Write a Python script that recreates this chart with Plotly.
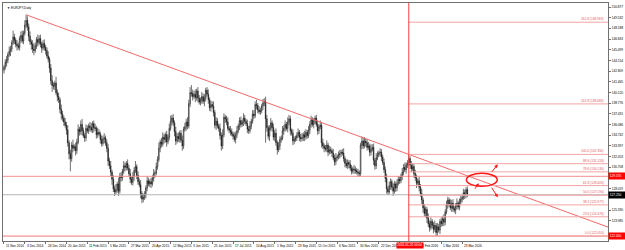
import plotly.graph_objects as go

symbol_title = "EURJPY,Daily"
first_open = 142.9

closes = [
    143.3, 143.9, 144.2, 144.9, 145.3, 145.6, 146.4, 147.1, 146.7, 146.2, 146.0, 145.8, 146.9, 147.3, 146.6, 147.6,
    148.6, 149.2, 148.4, 147.2, 146.5, 146.2, 145.6, 145.4, 146.0, 146.8, 146.4, 146.9, 146.2, 145.7, 146.3, 145.8,
    145.4, 144.7, 144.3, 143.2, 141.6, 141.0, 140.9, 141.3, 140.1, 139.6, 139.2, 138.0, 137.4, 136.9, 136.4, 136.0,
    135.4, 133.8, 132.4, 131.8, 133.5, 133.1, 133.3, 132.8, 133.9, 135.5, 135.2, 136.1, 135.3, 134.7, 134.4, 135.6,
    135.3, 135.9, 135.7, 135.4, 136.2, 135.7, 135.6, 134.8, 135.1, 134.9, 134.2, 133.7, 134.3, 134.4, 133.8, 133.1,
    131.5, 130.9, 130.1, 129.2, 128.0, 127.6, 127.9, 128.6, 127.7, 129.6, 129.4, 130.2, 130.9, 130.7, 131.2, 130.6,
    129.9, 129.2, 128.8, 129.6, 130.3, 130.8, 129.7, 128.9, 128.5, 127.4, 126.7, 126.9, 127.3, 128.1, 129.0, 128.6,
    128.9, 128.6, 129.3, 129.9, 130.0, 130.8, 131.7, 133.1, 133.9, 133.6, 134.5, 134.2, 134.8, 133.9, 134.5, 135.6,
    136.5, 136.9, 136.3, 135.2, 134.0, 134.6, 134.3, 135.0, 134.1, 133.4, 135.5, 135.8, 136.4, 135.9, 138.7, 140.1,
    140.0, 139.6, 139.9, 139.5, 140.3, 139.4, 138.9, 139.2, 139.6, 139.0, 139.4, 140.4, 139.9, 139.2, 138.2, 138.6,
    138.4, 137.6, 136.0, 136.5, 135.9, 135.6, 134.7, 133.4, 134.8, 137.0, 136.8, 136.4, 135.6, 135.4, 135.2, 134.9,
    134.6, 134.2, 134.8, 135.3, 135.9, 136.6, 136.1, 136.4, 136.9, 136.5, 136.2, 135.5, 135.3, 135.9, 136.5, 137.4,
    137.2, 138.6, 138.5, 137.9, 137.7, 137.8, 138.4, 138.8, 139.0, 136.8, 135.7, 134.6, 135.6, 136.3, 135.7, 134.5,
    135.0, 133.8, 132.9, 133.4, 134.2, 134.4, 135.3, 135.6, 136.1, 135.6, 136.4, 136.8, 135.3, 135.0, 134.0, 134.2,
    134.4, 134.7, 135.1, 134.5, 134.3, 134.4, 134.8, 134.5, 135.1, 134.7, 135.4, 136.1, 136.7, 136.1, 136.5, 136.9,
    136.1, 135.3, 135.8, 136.0, 133.8, 133.4, 133.1, 133.0, 133.5, 132.6, 132.9, 132.8, 132.5, 131.9, 131.4, 131.9,
    132.0, 132.3, 132.4, 132.6, 132.5, 131.8, 131.2, 130.9, 131.3, 131.1, 130.6, 130.2, 130.5, 130.4, 130.3, 130.1,
    130.0, 129.9, 133.5, 134.0, 133.4, 134.0, 133.8, 133.2, 133.4, 132.6, 133.0, 133.2, 131.6, 130.9, 131.9, 132.3,
    132.5, 132.6, 132.0, 131.3, 130.4, 129.3, 128.0, 127.6, 128.4, 128.9, 128.2, 127.7, 128.6, 128.1, 128.7, 129.2,
    129.0, 129.6, 130.1, 130.7, 130.4, 131.0, 131.2, 131.8, 131.0, 130.5, 130.8, 129.9, 129.4, 128.7, 129.0, 128.2,
    127.4, 126.6, 125.6, 124.9, 125.4, 124.3, 123.6, 123.1, 123.9, 123.4, 122.9, 123.4, 122.5, 123.2, 122.8, 123.9,
    123.6, 124.2, 123.8, 125.1, 126.0, 126.6, 126.1, 125.6, 126.2, 125.5, 125.3, 125.8, 126.2, 125.7, 126.3, 126.7,
    126.9, 127.5, 127.2, 127.9, 127.25,
]

wick_up = [
    0.3, 0.4, 0.5, 0.3, 0.6, 0.4, 0.3, 0.8, 0.4, 0.3, 0.5, 0.4, 0.3, 0.5, 0.6, 0.3,
    0.6, 0.7, 0.5, 0.4, 0.6, 0.3, 0.5, 0.7, 0.4, 0.3, 0.6, 0.4, 0.5, 0.3, 0.4, 0.5,
    0.3, 0.4, 0.6, 0.3, 0.5, 0.7, 0.4, 0.3, 0.8, 0.4, 0.5, 0.3, 0.6, 0.4, 0.3, 0.5,
    0.4, 0.6, 0.3, 0.5, 0.4, 0.7, 0.3, 0.5, 0.4, 0.6, 0.3, 0.5, 0.7, 0.4, 0.3, 0.5,
    0.4, 0.3, 0.5, 0.6, 0.3, 0.4, 0.5, 0.3, 0.6, 0.4, 0.3, 0.5, 0.4, 0.6, 0.3, 0.4,
    0.5, 0.4, 0.6, 0.3, 0.5, 0.4, 0.7, 0.3, 0.8, 0.4, 0.5, 0.3, 0.6, 0.4, 0.3, 0.5,
    0.4, 0.6, 0.3, 0.5, 0.4, 0.7, 0.3, 0.5, 0.4, 0.6, 0.3, 0.5, 0.4, 0.3, 0.6, 0.4,
    0.3, 0.5, 0.4, 0.6, 0.3, 0.5, 0.4, 0.7, 0.3, 0.5, 0.6, 0.4, 0.3, 0.5, 0.4, 0.6,
    0.7, 0.4, 0.5, 0.3, 0.6, 0.4, 0.5, 0.3, 0.4, 0.6, 0.3, 0.5, 0.4, 0.6, 0.5, 0.7,
    0.95, 0.5, 0.4, 0.6, 0.3, 0.5, 0.4, 0.3, 0.6, 0.4, 0.5, 0.3, 0.4, 0.6, 0.3, 0.5,
    0.4, 0.6, 0.3, 0.5, 0.4, 0.3, 0.6, 0.4, 0.7, 0.5, 0.3, 0.4, 0.6, 0.3, 0.5, 0.4,
    0.3, 0.5, 0.4, 0.6, 0.3, 0.4, 0.5, 0.3, 0.6, 0.4, 0.3, 0.5, 0.4, 0.6, 0.3, 0.5,
    0.5, 0.4, 0.6, 0.3, 0.5, 0.4, 0.3, 0.5, 0.4, 0.6, 0.5, 0.3, 0.4, 0.6, 0.3, 0.5,
    0.4, 0.6, 0.3, 0.5, 0.4, 0.3, 0.6, 0.4, 0.5, 0.3, 0.6, 0.5, 0.4, 0.3, 0.5, 0.4,
    0.3, 0.4, 0.5, 0.3, 0.4, 0.6, 0.3, 0.5, 0.4, 0.3, 0.5, 0.4, 0.5, 0.3, 0.4, 0.3,
    0.4, 0.5, 0.3, 0.6, 0.4, 0.5, 0.3, 0.4, 0.6, 0.3, 0.5, 0.4, 0.3, 0.5, 0.4, 0.6,
    0.3, 0.4, 0.5, 0.3, 0.4, 0.6, 0.3, 0.5, 0.4, 0.3, 0.5, 0.4, 0.3, 0.5, 0.4, 0.3,
    0.4, 0.3, 0.3, 0.6, 0.4, 0.5, 0.3, 0.4, 0.5, 0.3, 0.6, 0.4, 0.5, 0.3, 0.6, 0.4,
    0.3, 0.5, 0.4, 0.3, 0.5, 0.4, 0.6, 0.3, 0.5, 0.4, 0.3, 0.5, 0.4, 0.3, 0.5, 0.4,
    0.4, 0.3, 0.5, 0.4, 0.6, 0.3, 0.4, 0.53, 0.3, 0.5, 0.4, 0.3, 0.5, 0.4, 0.3, 0.5,
    0.4, 0.6, 0.3, 0.5, 0.4, 0.3, 0.6, 0.4, 0.5, 0.3, 0.4, 0.6, 0.3, 0.5, 0.4, 0.3,
    0.5, 0.4, 0.6, 0.3, 0.5, 0.4, 0.3, 0.6, 0.4, 0.5, 0.3, 0.4, 0.6, 0.3, 0.5, 0.4,
    0.3, 0.5, 0.4, 0.3, 0.4,
]

wick_dn = [
    0.4, 0.3, 0.5, 0.4, 0.3, 0.6, 0.4, 0.3, 0.5, 0.4, 0.6, 0.3, 0.4, 0.5, 0.3, 0.4,
    0.3, 0.4, 0.5, 0.6, 0.4, 0.7, 0.5, 0.6, 0.3, 0.4, 0.5, 0.3, 0.4, 0.6, 0.3, 0.4,
    0.5, 0.3, 0.4, 0.6, 0.5, 0.8, 0.4, 0.5, 0.3, 0.6, 0.4, 0.5, 0.7, 0.4, 0.5, 0.3,
    0.6, 0.5, 0.7, 1.6, 0.4, 0.5, 0.3, 0.6, 0.4, 0.3, 0.5, 0.4, 0.6, 0.3, 0.5, 0.4,
    0.3, 0.4, 0.5, 0.3, 0.4, 0.6, 0.3, 0.5, 0.4, 0.3, 0.5, 0.4, 0.3, 0.6, 0.4, 0.5,
    0.6, 0.4, 0.5, 0.7, 0.4, 0.5, 0.3, 0.4, 0.6, 0.3, 0.5, 0.4, 0.3, 0.5, 0.4, 0.3,
    0.4, 0.5, 0.3, 0.4, 0.6, 0.3, 0.5, 0.4, 0.3, 0.6, 0.5, 0.4, 0.3, 0.5, 0.4, 0.3,
    0.4, 0.5, 0.3, 0.4, 0.5, 0.3, 0.4, 0.3, 0.5, 0.4, 0.3, 0.5, 0.4, 0.6, 0.3, 0.4,
    0.3, 0.5, 0.4, 0.6, 0.5, 0.3, 0.4, 0.5, 0.3, 0.6, 0.4, 0.3, 0.5, 0.4, 0.3, 0.4,
    0.4, 0.5, 0.3, 0.6, 0.4, 0.5, 0.3, 0.4, 0.5, 0.3, 0.6, 0.4, 0.3, 0.5, 0.4, 0.5,
    0.3, 0.5, 0.4, 0.6, 0.3, 0.4, 0.5, 0.6, 0.4, 0.3, 0.5, 0.4, 0.3, 0.4, 0.5, 0.3,
    0.4, 0.3, 0.5, 0.4, 0.3, 0.5, 0.4, 0.3, 0.5, 0.4, 0.3, 0.5, 0.4, 0.3, 0.4, 0.3,
    0.4, 0.3, 0.5, 0.4, 0.3, 0.4, 0.3, 0.5, 0.4, 3.0, 0.5, 0.4, 0.6, 0.3, 0.5, 0.4,
    0.5, 0.4, 0.6, 0.3, 0.5, 0.4, 0.3, 0.5, 0.4, 0.3, 0.5, 0.4, 0.6, 0.3, 0.5, 0.4,
    0.3, 0.4, 0.3, 0.5, 0.4, 0.3, 0.4, 0.5, 0.3, 0.4, 0.3, 0.5, 0.4, 0.3, 0.5, 0.4,
    0.3, 0.5, 0.4, 0.3, 0.6, 0.4, 0.5, 0.3, 0.4, 0.5, 0.3, 0.4, 0.5, 0.3, 0.5, 0.4,
    0.4, 0.3, 0.5, 0.4, 0.3, 0.4, 0.5, 0.3, 0.4, 0.5, 0.3, 0.4, 0.3, 0.5, 0.4, 0.3,
    0.4, 0.4, 0.3, 0.5, 0.4, 0.3, 0.5, 0.4, 0.3, 0.5, 0.4, 0.3, 0.6, 0.5, 0.4, 0.3,
    0.3, 0.4, 0.5, 0.3, 0.4, 0.5, 0.6, 0.4, 0.3, 0.5, 0.4, 0.6, 0.3, 0.5, 0.4, 0.3,
    0.4, 0.3, 0.5, 0.4, 0.3, 0.5, 0.4, 0.3, 0.5, 0.4, 0.3, 0.5, 0.4, 0.6, 0.3, 0.5,
    0.4, 0.5, 0.6, 0.4, 0.5, 0.6, 0.4, 0.5, 0.3, 0.4, 0.5, 0.3, 0.45, 0.4, 0.3, 0.5,
    0.4, 0.3, 0.5, 0.4, 0.3, 0.5, 0.4, 0.3, 0.5, 0.4, 0.3, 0.5, 0.4, 0.3, 0.4, 0.3,
    0.4, 0.3, 0.5, 0.4, 0.3,
]

# date labels of the time axis, one every 16 daily bars; the 15 Jan 2016 one
# sits under the red vertical-line label and is not visible in the reference
xtick_labels = [
    "11 Nov 2014", "3 Dec 2014", "26 Dec 2014", "20 Jan 2015", "11 Feb 2015", "5 Mar 2015",
    "27 Mar 2015", "20 Apr 2015", "12 May 2015", "3 Jun 2015", "25 Jun 2015", "17 Jul 2015",
    "10 Aug 2015", "1 Sep 2015", "23 Sep 2015", "15 Oct 2015", "6 Nov 2015", "30 Nov 2015",
    "22 Dec 2015", "", "8 Feb 2016", "1 Mar 2016", "23 Mar 2016",
]
bars_per_label = 16

fib_ratios = [0.0, 23.6, 38.2, 50.0, 61.8, 78.6, 88.6, 100.0, 161.8, 261.8]
peak_bar = 17          # Dec 2014 top (trendline start)
swing_high_bar = 311   # Jan 2016 swing high (trendline 2nd anchor, fibo 100)
h_level = 129.57       # manually drawn horizontal line
vline_label = "2016.01.26 00:00"

# price-axis tick grid (MT4 style, uneven values)
ytick_top = 150.877
ytick_step = 1.3446

# ---- derived OHLC ----
n = len(closes)
opens = [first_open] + closes[:-1]
highs = [max(o, c) + w for o, c, w in zip(opens, closes, wick_up)]
lows = [min(o, c) - w for o, c, w in zip(opens, closes, wick_dn)]
xs = list(range(n))

X_RANGE = [-0.76, 464.1]
Y_RANGE = [121.43, 151.38]
FS = 3.2
FONT = "Liberation Sans"
PX_PER_UNIT = 239 / (Y_RANGE[1] - Y_RANGE[0])

lo = min(lows[swing_high_bar:])
hi = highs[swing_high_bar]
bid = closes[-1]
label_levels = [(h_level, "#ff0000"), (bid, "#000000"), (lo, "#ff0000")]

fig = go.Figure()
fig.add_trace(go.Candlestick(
    x=xs, open=opens, high=highs, low=lows, close=closes,
    increasing=dict(line=dict(color="#111111", width=0.6), fillcolor="#ffffff"),
    decreasing=dict(line=dict(color="#111111", width=0.6), fillcolor="#222222"),
    whiskerwidth=0, showlegend=False, hoverinfo="skip",
))

shapes = []
annotations = []

# trendline (ray from Dec-2014 top through Jan-2016 swing high)
x0, y0 = peak_bar, highs[peak_bar]
x1, y1 = swing_high_bar, highs[swing_high_bar]
slope = (y1 - y0) / (x1 - x0)
shapes.append(dict(type="line", xref="x", yref="y", x0=x0, y0=y0,
                   x1=X_RANGE[1], y1=y0 + slope * (X_RANGE[1] - x0),
                   line=dict(color="#f26a6a", width=1)))

# full-width horizontal lines
shapes.append(dict(type="line", xref="paper", yref="y", x0=0, x1=1, y0=h_level, y1=h_level,
                   line=dict(color="#f29090", width=1)))
shapes.append(dict(type="line", xref="paper", yref="y", x0=0, x1=1, y0=bid, y1=bid,
                   line=dict(color="#b4b4b4", width=1)))
shapes.append(dict(type="line", xref="paper", yref="y", x0=0, x1=1, y0=lo, y1=lo,
                   line=dict(color="#f07878", width=1)))

# fibonacci levels
fib_color = "#f4a4a4"
for r in fib_ratios:
    p = lo + r / 100.0 * (hi - lo)
    shapes.append(dict(type="line", xref="x", yref="y", x0=swing_high_bar, x1=X_RANGE[1],
                       y0=p, y1=p, line=dict(color=fib_color, width=1)))
    annotations.append(dict(xref="paper", yref="y", x=1, y=p, xanchor="right", yanchor="bottom",
                            xshift=-2, yshift=-1, showarrow=False,
                            text=f"{r:.1f} ({p:.3f})",
                            font=dict(size=FS, color="#e25a5a", family=FONT)))

# vertical line at swing high
shapes.append(dict(type="line", xref="x", yref="paper", x0=swing_high_bar, x1=swing_high_bar,
                   y0=0, y1=1, line=dict(color="#ff4040", width=1)))

# ellipse + arrows
shapes.append(dict(type="circle", xref="x", yref="y", x0=355.3, x1=379.0, y0=128.32, y1=129.95,
                   line=dict(color="#ff1a1a", width=1.5)))
for hx, hy, ax, ay in [(364.9, 128.70, -5, 7), (379.4, 131.08, -7, 9), (379.4, 126.94, -7, -11)]:
    annotations.append(dict(x=hx, y=hy, xref="x", yref="y", ax=ax, ay=ay, showarrow=True,
                            arrowhead=2, arrowsize=0.7, arrowwidth=1, arrowcolor="#ff1a1a", text=""))

# x-axis date labels (left aligned like MT4)
for i, lab in enumerate(xtick_labels):
    if not lab:
        continue
    annotations.append(dict(xref="x", yref="paper", x=i * bars_per_label, y=0, xanchor="left",
                            yanchor="top", xshift=0, yshift=-1, showarrow=False, text=lab,
                            font=dict(size=FS, color="#000000", family=FONT)))

# vertical line date label
annotations.append(dict(xref="x", yref="paper", x=swing_high_bar, y=0, xanchor="center",
                        yanchor="top", xshift=1.5, yshift=-1, showarrow=False, text=vline_label,
                        bgcolor="#ff0000", borderpad=0.3,
                        font=dict(size=FS, color="#ffffff", family=FONT)))

# price-axis labels
for p, bg in label_levels:
    annotations.append(dict(xref="paper", yref="y", x=1, y=p, xanchor="left", yanchor="middle",
                            xshift=0, showarrow=False, text=f"{p:.3f}", bgcolor=bg, borderpad=0.8,
                            width=14, align="left",
                            font=dict(size=FS, color="#ffffff", family=FONT)))

# y tick values; drop those hidden under the coloured price labels
yticks = []
v = ytick_top
while v > Y_RANGE[0]:
    if v < Y_RANGE[1] and all(abs(v - p) * PX_PER_UNIT > 5.5 for p, _ in label_levels):
        yticks.append(round(v, 3))
    v -= ytick_step

# title
annotations.append(dict(xref="paper", yref="paper", x=0, y=1, xanchor="left", yanchor="top",
                        xshift=2, yshift=-1, showarrow=False, text="▼ " + symbol_title,
                        font=dict(size=FS, color="#000000", family=FONT)))

fig.update_layout(
    width=625, height=250,
    margin=dict(l=2, r=14, t=2, b=9),
    paper_bgcolor="#ffffff", plot_bgcolor="#ffffff",
    shapes=shapes, annotations=annotations,
    showlegend=False,
    xaxis=dict(range=X_RANGE, rangeslider=dict(visible=False), showgrid=False, zeroline=False,
               showline=True, linecolor="#707070", linewidth=1, mirror=True,
               tickmode="array", tickvals=[i * bars_per_label for i in range(len(xtick_labels))],
               ticktext=["" for _ in xtick_labels], ticks="outside", ticklen=2, tickcolor="#707070"),
    yaxis=dict(range=Y_RANGE, side="right", showgrid=False, zeroline=False,
               showline=True, linecolor="#707070", linewidth=1, mirror=True,
               tickmode="array", tickvals=yticks, ticktext=[f"{t:.3f}" for t in yticks],
               ticks="outside", ticklen=2, tickcolor="#707070",
               tickfont=dict(size=FS, color="#000000", family=FONT)),
)

fig.write_html("out.html")
